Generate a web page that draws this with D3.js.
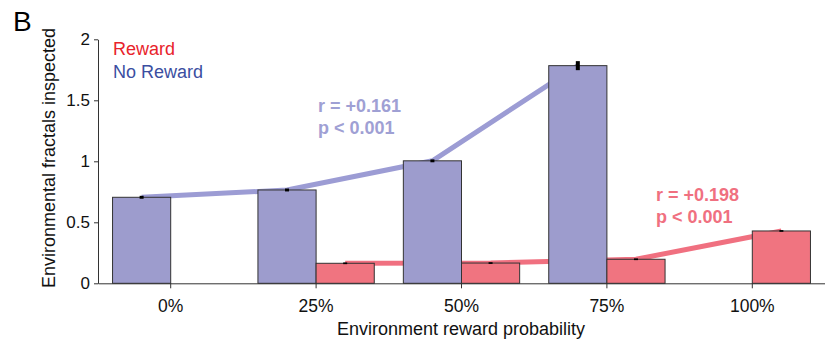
<!DOCTYPE html>
<html><head><meta charset="utf-8">
<script src="https://cdn.jsdelivr.net/npm/d3@7"></script>
<style>body{margin:0;background:#fff}svg{display:block}svg text{font-family:Arial,"Liberation Sans",sans-serif}</style>
</head><body><svg id="c" width="825" height="343"></svg>
<script>
const categories = ["0%", "25%", "50%", "75%", "100%"];
const noRewardMean = [0.705, 0.765, 1.004, 1.784, null];
const noRewardSE   = [0.012, 0.012, 0.012, 0.037, null];
const rewardMean   = [null, 0.164, 0.166, 0.197, 0.429];
const rewardSE     = [null, 0.007, 0.007, 0.007, 0.007];
const yTicks = [0, 0.5, 1, 1.5, 2];
const yTickLabels = ["0", "0.5", "1", "1.5", "2"];

const svg = d3.select("#c");
const x = d3.scaleBand().domain(categories).range([98, 825]).paddingInner(0).paddingOuter(0);
const y = d3.scaleLinear().domain([0, 2]).range([283.3, 39.3]);
const bw = x.step() * 0.4;
const cx = c => x(c) + x.bandwidth() / 2;

const blue = "#9d9ccd", red = "#f07480";
const blueLine = "#9c9cd4", redLine = "#f07080";

// lines behind bars
const nrPts = categories.map((c, i) => ({c, v: noRewardMean[i]})).filter(d => d.v != null);
const rPts = categories.map((c, i) => ({c, v: rewardMean[i]})).filter(d => d.v != null);
const lineNR = d3.line().x(d => cx(d.c) - bw / 2).y(d => y(d.v));
const lineR = d3.line().x(d => cx(d.c) + bw / 2).y(d => y(d.v));
svg.append("path").attr("d", lineNR(nrPts)).attr("fill", "none").attr("stroke", blueLine).attr("stroke-width", 5);
svg.append("path").attr("d", lineR(rPts)).attr("fill", "none").attr("stroke", redLine).attr("stroke-width", 5);

// bars
svg.selectAll(".nr").data(nrPts).join("rect")
  .attr("x", d => cx(d.c) - bw).attr("y", d => y(d.v)).attr("width", bw).attr("height", d => y(0) - y(d.v))
  .attr("fill", blue).attr("stroke", "#333").attr("stroke-width", 1);
svg.selectAll(".r").data(rPts).join("rect")
  .attr("x", d => cx(d.c)).attr("y", d => y(d.v)).attr("width", bw).attr("height", d => y(0) - y(d.v))
  .attr("fill", red).attr("stroke", "#333").attr("stroke-width", 1);

// error bars
const eb = [];
categories.forEach((c, i) => {
  if (noRewardMean[i] != null) eb.push({x: cx(c) - bw / 2, m: noRewardMean[i], s: noRewardSE[i]});
  if (rewardMean[i] != null) eb.push({x: cx(c) + bw / 2, m: rewardMean[i], s: rewardSE[i]});
});
svg.selectAll(".eb").data(eb).join("rect")
  .attr("x", d => d.x - 2).attr("width", 4)
  .attr("y", d => y(d.m + d.s))
  .attr("height", d => y(d.m - d.s) - y(d.m + d.s))
  .attr("fill", "#000");

// axes
const yAxis = d3.axisLeft(y).tickValues(yTicks).tickFormat((d, i) => yTickLabels[i]).tickSize(4).tickSizeOuter(0);
const gy = svg.append("g").attr("transform", "translate(98,0)").call(yAxis).attr("font-family", null);
gy.selectAll("text").attr("font-size", 17).attr("fill", "#111").attr("dx", "-1");
gy.select(".domain").attr("stroke", "#333");
gy.selectAll(".tick line").attr("stroke", "#333");

const xAxis = d3.axisBottom(x).tickSize(5).tickSizeOuter(0);
const gx = svg.append("g").attr("transform", "translate(0,283.3)").call(xAxis).attr("font-family", null);
gx.selectAll("text").attr("font-size", 17.5).attr("fill", "#111").attr("y", 28.5).attr("dy", null);
gx.select(".domain").attr("stroke", "#333");
gx.selectAll(".tick line").attr("stroke", "#333");

// titles
svg.append("text").attr("x", 461).attr("y", 335).attr("text-anchor", "middle").attr("font-size", 18).attr("fill", "#111")
  .text("Environment reward probability");
svg.append("text").attr("transform", "translate(55,158) rotate(-90)").attr("text-anchor", "middle").attr("font-size", 18).attr("fill", "#111")
  .text("Environmental fractals inspected");
svg.append("text").attr("x", 13).attr("y", 31).attr("font-size", 28).attr("fill", "#000").text("B");

// legend
svg.append("text").attr("x", 113).attr("y", 55).attr("font-size", 18).attr("fill", "#e8232b").text("Reward");
svg.append("text").attr("x", 113).attr("y", 78).attr("font-size", 18).attr("fill", "#3b4ea1").text("No Reward");

// stats annotations
svg.append("text").attr("x", 318).attr("y", 112).attr("font-size", 18).attr("font-weight", "bold").attr("fill", "#9fa0d4").text("r = +0.161");
svg.append("text").attr("x", 318).attr("y", 134).attr("font-size", 18).attr("font-weight", "bold").attr("fill", "#9fa0d4").text("p < 0.001");
svg.append("text").attr("x", 656).attr("y", 201).attr("font-size", 18).attr("font-weight", "bold").attr("fill", "#f07080").text("r = +0.198");
svg.append("text").attr("x", 656).attr("y", 223).attr("font-size", 18).attr("font-weight", "bold").attr("fill", "#f07080").text("p < 0.001");
</script></body></html>
